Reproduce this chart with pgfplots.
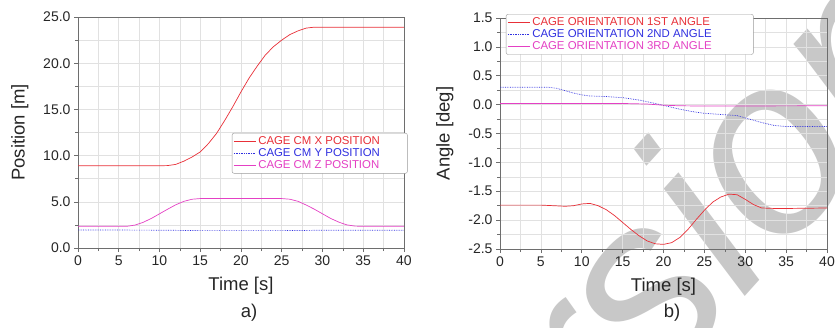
\documentclass[border=0pt]{standalone}
\usepackage{pgfplots}
\pgfplotsset{compat=1.18}
\usepackage{fontspec}
\setmainfont{Liberation Sans}
\definecolor{cred}{RGB}{232,48,56}
\definecolor{cblue}{RGB}{48,48,224}
\definecolor{cmag}{RGB}{228,64,196}
\definecolor{gridc}{RGB}{225,225,225}
\definecolor{axc}{RGB}{110,110,110}
\definecolor{wm}{RGB}{200,200,200}
\pgfplotsset{
  myax/.style={
    scale only axis,
    xmin=0, xmax=40,
    xtick={0,5,...,40},
    minor x tick num=1,
    minor y tick num=1,
    grid=both,
    major grid style={gridc, line width=0.6pt},
    minor grid style={gridc, line width=0.6pt},
    axis line style={axc, line width=0.8pt},
    tick style={axc, line width=0.6pt},
    major tick length=4pt, minor tick length=3pt,
    tick align=outside,
    xtick pos=bottom, ytick pos=left,
    /pgf/number format/assume math mode=true,
    tick label style={font=\fontsize{14}{14}\selectfont, text=black!85},
    label style={font=\fontsize{18.5}{18.5}\selectfont, text=black!85},
    xlabel style={yshift=-5pt}, ylabel style={yshift=8pt},
    legend cell align=left,
    legend style={draw=gray!80, rounded corners=2pt, fill=white,
      font=\fontsize{11.4}{11.4}\selectfont, inner sep=1.5pt, row sep=-1.6pt},
    legend image code/.code={\draw[##1] (0pt,0pt) -- (22pt,0pt);},
    every axis plot/.append style={line width=0.7pt},
  }
}
\begin{document}
\begin{tikzpicture}[x=1pt,y=1pt]
\useasboundingbox (0,0) rectangle (835,327);
\node[wm, rotate=48, anchor=base, inner sep=0pt, font=\itshape\fontsize{250}{250}\selectfont] at (696,-24) {version};
\begin{axis}[myax,
  at={(78pt,79pt)}, anchor=south west, width=326pt, height=231pt,
  ymin=0, ymax=25, ytick={0,5,...,25},
  yticklabel style={/pgf/number format/fixed, /pgf/number format/precision=1, /pgf/number format/fixed zerofill},
  xlabel={Time [s]}, ylabel={Position [m]},
  legend style={at={(0.472,0.498)}, anchor=north west},
]
\addplot[cred] coordinates {(0,8.9) (10,8.9) (11,8.92) (12,9.05) (13,9.4) (14,9.85) (15,10.4) (16,11.3) (17,12.4) (18,13.8) (19,15.3) (20,16.9) (21,18.4) (22,19.7) (23,20.9) (24,21.8) (25,22.5) (26,23.1) (27,23.5) (28,23.8) (29,23.9) (30,23.9) (40,23.9)};
\addlegendentry{\textcolor{cred}{CAGE CM X POSITION}\hspace*{24pt}}
\addplot[cblue, densely dotted] coordinates {(0,1.95) (10,1.93) (15,1.88) (25,1.88) (30,1.92) (40,1.93)};
\addlegendentry{\textcolor{cblue}{CAGE CM Y POSITION}}
\addplot[cmag] coordinates {(0,2.35) (6,2.35) (7,2.48) (8,2.78) (9,3.2) (10,3.7) (11,4.2) (12,4.68) (13,5.05) (14,5.28) (15,5.35) (25,5.35) (26,5.28) (27,5.05) (28,4.65) (29,4.2) (30,3.7) (31,3.2) (32,2.8) (33,2.5) (34,2.37) (35,2.35) (40,2.35)};
\addlegendentry{\textcolor{cmag}{CAGE CM Z POSITION}}
\end{axis}
\begin{axis}[myax,
  at={(500pt,78pt)}, anchor=south west, width=327pt, height=231pt,
  ymin=-2.5, ymax=1.5, ytick={-2.5,-2,...,1.5},
  yticklabel style={/pgf/number format/fixed, /pgf/number format/precision=1, /pgf/number format/fixed zerofill},
  xlabel={Time [s]}, ylabel={Angle [deg]},
  legend style={at={(0.018,1.017)}, anchor=north west},
]
\addplot[cred] coordinates {(0,-1.74) (5,-1.74) (8,-1.76) (9,-1.75) (10,-1.72) (11,-1.71) (12,-1.75) (13,-1.82) (14,-1.92) (15,-2.04) (16,-2.16) (17,-2.27) (18,-2.36) (19,-2.41) (20,-2.42) (21,-2.39) (22,-2.3) (23,-2.16) (24,-1.99) (25,-1.83) (26,-1.69) (27,-1.6) (28,-1.55) (29,-1.56) (30,-1.64) (31,-1.73) (32,-1.79) (34,-1.8) (40,-1.79)};
\addlegendentry{\textcolor{cred}{CAGE ORIENTATION 1ST ANGLE}\hspace*{40pt}}
\addplot[cblue, densely dotted] coordinates {(0,0.3) (6,0.3) (7,0.28) (8,0.24) (9,0.2) (10,0.17) (11,0.15) (13,0.14) (15,0.12) (17,0.08) (19,0.02) (20.5,-0.03) (22,-0.08) (23.5,-0.12) (25,-0.15) (27,-0.17) (29,-0.19) (30.5,-0.25) (32,-0.31) (33.5,-0.36) (35,-0.38) (40,-0.38)};
\addlegendentry{\textcolor{cblue}{CAGE ORIENTATION 2ND ANGLE}}
\addplot[cmag] coordinates {(0,0.02) (10,0.02) (15,0.02) (18,0.01) (20,-0.01) (22,-0.02) (25,-0.025) (40,-0.02)};
\addlegendentry{\textcolor{cmag}{CAGE ORIENTATION 3RD ANGLE}}
\end{axis}
\node[font=\fontsize{18.5}{18.5}\selectfont, text=black!85] at (249,14) {a)};
\node[font=\fontsize{18.5}{18.5}\selectfont, text=black!85] at (672,14) {b)};
\end{tikzpicture}
\end{document}
